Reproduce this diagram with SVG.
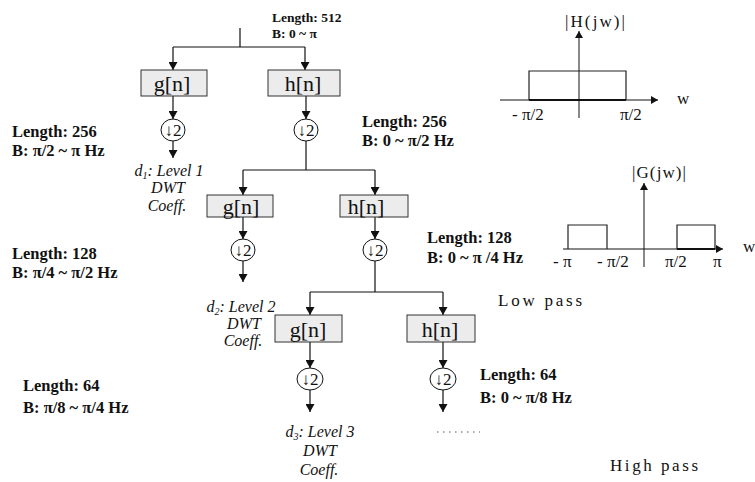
<svg xmlns="http://www.w3.org/2000/svg" width="755" height="482" viewBox="0 0 755 482">
<defs>
<marker id="ah" markerWidth="8" markerHeight="9" refX="8" refY="4.5" orient="auto" markerUnits="userSpaceOnUse">
<path d="M0,0 L8,4.5 L0,9 z" fill="#111"/>
</marker>
<marker id="ahs" markerWidth="7" markerHeight="8" refX="7" refY="4" orient="auto" markerUnits="userSpaceOnUse">
<path d="M0,0 L7,4 L0,8 z" fill="#111"/>
</marker>
<style>
.ln{stroke:#111;stroke-width:1.2;fill:none}
.ar{stroke:#111;stroke-width:1.2;fill:none;marker-end:url(#ah)}
.box{fill:#ececec;stroke:#333;stroke-width:1}
.ft{font-family:"Liberation Serif","DejaVu Serif",serif;font-size:22px;fill:#111;text-anchor:middle}
.ds{fill:#fff;stroke:#111;stroke-width:1}
.dst{font-family:"Liberation Serif","DejaVu Serif",serif;font-size:17px;fill:#111;text-anchor:middle}
.b{font-family:"Liberation Serif","Times New Roman",serif;font-weight:bold;font-size:16.5px;fill:#111}
.bs{font-family:"Liberation Serif","Times New Roman",serif;font-weight:bold;font-size:13.5px;fill:#111}
.it{font-family:"Liberation Serif","Times New Roman",serif;font-style:italic;font-size:16px;fill:#111;text-anchor:middle}
.pl{font-family:"Liberation Serif","DejaVu Serif",serif;font-size:17px;fill:#111}
.ax{stroke:#111;stroke-width:1;fill:none}
.rc{stroke:#222;stroke-width:1.2;fill:none}
</style>
</defs>

<g id="connectors">
<path class="ln" d="M240,28 V47 M173,47 H305"/>
<path class="ar" d="M173,47 V70"/>
<path class="ar" d="M305,47 V70"/>
<path class="ar" d="M173,96 V119"/>
<path class="ar" d="M306,96 V119"/>
<path class="ar" d="M173,141 V158"/>
<path class="ln" d="M306,141 V170 M243,170 H375"/>
<path class="ar" d="M243,170 V195"/>
<path class="ar" d="M375,170 V195"/>
<path class="ar" d="M243,217 V239"/>
<path class="ar" d="M375,217 V239"/>
<path class="ar" d="M243,261 V282"/>
<path class="ln" d="M375,261 V292 M310,292 H443"/>
<path class="ar" d="M310,292 V315"/>
<path class="ar" d="M443,292 V315"/>
<path class="ar" d="M310,342 V368"/>
<path class="ar" d="M443,342 V368"/>
<path class="ar" d="M310,390 V412"/>
<path class="ar" d="M443,390 V412"/>
<path d="M437,432 H480" stroke="#555" stroke-width="1" stroke-dasharray="1.5 4.5"/>
</g>

<g id="input-label">
<text class="bs" x="272" y="22">Length: 512</text>
<text class="bs" x="272" y="38">B: 0 ~ π</text>
</g>

<g id="g1"><rect class="box" x="141" y="70" width="66" height="26"/><text class="ft" x="172" y="91">g[n]</text></g>
<g id="h1"><rect class="box" x="268" y="70" width="72" height="26"/><text class="ft" x="303" y="91">h[n]</text></g>
<g id="dg1"><ellipse class="ds" cx="173" cy="130" rx="12" ry="11"/><text class="dst" x="173" y="136">↓2</text></g>
<g id="dh1"><ellipse class="ds" cx="306" cy="130" rx="12" ry="11"/><text class="dst" x="306" y="136">↓2</text></g>

<g id="g2"><rect class="box" x="207" y="195" width="66" height="22"/><text class="ft" x="241" y="214">g[n]</text></g>
<g id="h2"><rect class="box" x="340" y="195" width="68" height="22"/><text class="ft" x="366" y="214">h[n]</text></g>
<g id="dg2"><ellipse class="ds" cx="243" cy="250" rx="12" ry="11"/><text class="dst" x="243" y="256">↓2</text></g>
<g id="dh2"><ellipse class="ds" cx="375" cy="250" rx="12" ry="11"/><text class="dst" x="375" y="256">↓2</text></g>

<g id="g3"><rect class="box" x="275" y="315" width="67" height="27"/><text class="ft" x="308" y="337">g[n]</text></g>
<g id="h3"><rect class="box" x="407" y="315" width="68" height="27"/><text class="ft" x="440" y="337">h[n]</text></g>
<g id="dg3"><ellipse class="ds" cx="310" cy="379" rx="13" ry="11"/><text class="dst" x="310" y="385">↓2</text></g>
<g id="dh3"><ellipse class="ds" cx="443" cy="379" rx="13" ry="11"/><text class="dst" x="443" y="385">↓2</text></g>

<g id="d1">
<text class="it" x="169" y="176">d<tspan font-size="10" dy="3">1</tspan><tspan dy="-3">: Level 1</tspan></text>
<text class="it" x="168" y="193">DWT</text>
<text class="it" x="167" y="211">Coeff.</text>
</g>
<g id="d2">
<text class="it" x="241" y="312">d<tspan font-size="10" dy="3">2</tspan><tspan dy="-3">: Level 2</tspan></text>
<text class="it" x="244" y="329">DWT</text>
<text class="it" x="243" y="346">Coeff.</text>
</g>
<g id="d3">
<text class="it" x="320" y="437">d<tspan font-size="10" dy="3">3</tspan><tspan dy="-3">: Level 3</tspan></text>
<text class="it" x="320" y="456">DWT</text>
<text class="it" x="319" y="475">Coeff.</text>
</g>

<g id="band-labels">
<text class="b" x="12" y="137">Length: 256</text>
<text class="b" x="12" y="156">B: π/2 ~ π Hz</text>
<text class="b" x="12" y="259">Length: 128</text>
<text class="b" x="12" y="278">B: π/4 ~ π/2 Hz</text>
<text class="b" x="23" y="391">Length: 64</text>
<text class="b" x="23" y="413">B: π/8 ~ π/4 Hz</text>
<text class="b" x="362" y="127">Length: 256</text>
<text class="b" x="362" y="146">B: 0 ~ π/2 Hz</text>
<text class="b" x="427" y="243">Length: 128</text>
<text class="b" x="427" y="263">B: 0 ~ π /4 Hz</text>
<text class="b" x="480" y="380">Length: 64</text>
<text class="b" x="480" y="403">B: 0 ~ π/8 Hz</text>
</g>

<g id="H-plot">
<path class="ax" d="M500,100 H658" marker-end="url(#ahs)"/>
<path class="ax" d="M579,118 V31" marker-end="url(#ahs)"/>
<path class="rc" d="M529,100 V71 H626 V100"/>
<path d="M529,100 H626" stroke="#111" stroke-width="2"/>
<text class="pl" x="565" y="27" textLength="60">|H(jw)|</text>
<text class="pl" x="677" y="104">w</text>
<text class="pl" x="512" y="120">- π/2</text>
<text class="pl" x="620" y="120">π/2</text>
</g>

<g id="G-plot">
<path class="ax" d="M563,249 H723" marker-end="url(#ahs)"/>
<path class="ax" d="M644,267 V183" marker-end="url(#ahs)"/>
<path class="rc" d="M568,249 V225 H607 V249"/>
<path class="rc" d="M677,249 V225 H715 V249"/>
<path d="M677,249 H715" stroke="#111" stroke-width="2"/>
<text class="pl" x="632" y="178" textLength="54">|G(jw)|</text>
<text class="pl" x="743" y="252">w</text>
<text class="pl" x="553" y="267">- π</text>
<text class="pl" x="597" y="267">- π/2</text>
<text class="pl" x="665" y="267">π/2</text>
<text class="pl" x="713" y="267">π</text>
<text class="pl" x="498" y="306" textLength="84">Low  pass</text>
<text class="pl" x="610" y="471" textLength="88">High  pass</text>
</g>
</svg>
